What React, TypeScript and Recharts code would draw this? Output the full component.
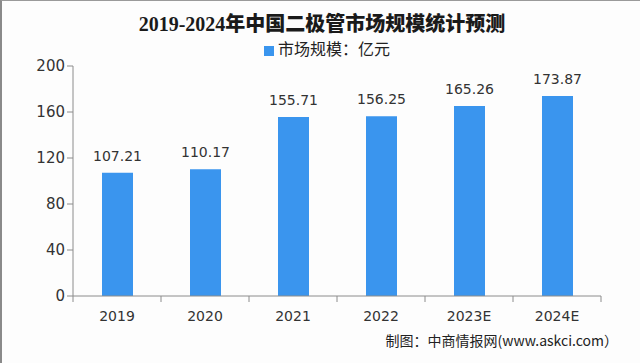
import React from 'react';
import { BarChart, Bar, XAxis, YAxis, Legend, LabelList } from 'recharts';

const years = ['2019', '2020', '2021', '2022', '2023E', '2024E'];
const marketSize = [107.21, 110.17, 155.71, 156.25, 165.26, 173.87];
const yTicks = [0, 40, 80, 120, 160, 200];

const data = years.map((year, i) => ({ year, value: marketSize[i] }));

const AXIS_COLOR = '#8c8c8c';
const BAR_COLOR = '#3a95ee';

// category ticks sit between the bars, so draw the tick marks at the band edges
function XTick(props: any) {
  const { x, y, payload, index, visibleTicksCount } = props;
  const half = payload && payload.offset ? payload.offset : 44;
  const top = y - 8;
  return (
    <g>
      <line x1={x - half} y1={top} x2={x - half} y2={top + 6} stroke={AXIS_COLOR} />
      {index === visibleTicksCount - 1 && (
        <line x1={x + half} y1={top} x2={x + half} y2={top + 6} stroke={AXIS_COLOR} />
      )}
      <text x={x} y={y + 17} textAnchor="middle" fill="#333" fontSize={14} fontFamily="DejaVu Sans, sans-serif">
        {payload.value}
      </text>
    </g>
  );
}

export default function App() {
  return (
    <div
      style={{
        position: 'absolute',
        left: 0,
        top: 0,
        width: 640,
        height: 363,
        background: '#fdfdfd',
        boxSizing: 'border-box',
        borderLeft: '2px solid #8a8a8a',
        borderTop: '1px solid #9a9a9a',
        overflow: 'hidden',
      }}
    >
      <div
        style={{
          position: 'absolute',
          top: 7,
          left: 0,
          width: 640,
          textAlign: 'center',
          fontFamily: '"Liberation Serif", "Noto Sans CJK SC", serif',
          fontWeight: 900,
          fontSize: 20,
          color: '#1a1a1a',
        }}
      >
        2019-2024年中国二极管市场规模统计预测
      </div>
      <div
        style={{
          position: 'absolute',
          right: 22,
          top: 329,
          fontFamily: '"Noto Sans CJK SC", sans-serif',
          fontSize: 14,
          color: '#222',
        }}
      >
        制图：中商情报网(www.askci.com）
      </div>
      <div style={{ position: 'absolute', left: -2, top: -1 }}>
        <BarChart
          width={640}
          height={363}
          data={data}
          margin={{ top: 42, right: 39, left: 0, bottom: 37 }}
          barSize={31}
        >
          <Legend
            verticalAlign="top"
            align="center"
            iconType="square"
            iconSize={10}
            wrapperStyle={{ top: 36, left: 12, width: 640, fontFamily: '"Noto Sans CJK SC", sans-serif', fontSize: 16 }}
            formatter={(v: string) => <span style={{ color: '#222' }}>{v}</span>}
          />
          <YAxis
            width={73}
            domain={[0, 200]}
            ticks={yTicks}
            tickLine={{ stroke: AXIS_COLOR }}
            tickSize={6}
            axisLine={{ stroke: AXIS_COLOR }}
            tick={{ fill: '#333', fontSize: 15, fontFamily: 'DejaVu Sans, sans-serif' }}
          />
          <XAxis
            dataKey="year"
            height={30}
            axisLine={{ stroke: AXIS_COLOR }}
            tickLine={false}
            interval={0}
            tick={<XTick />}
          />
          <Bar dataKey="value" name="市场规模：亿元" fill={BAR_COLOR} isAnimationActive={false}>
            <LabelList
              dataKey="value"
              position="top"
              offset={12}
              fill="#333"
              fontSize={14}
              fontFamily="DejaVu Sans, sans-serif"
            />
          </Bar>
        </BarChart>
      </div>
    </div>
  );
}
